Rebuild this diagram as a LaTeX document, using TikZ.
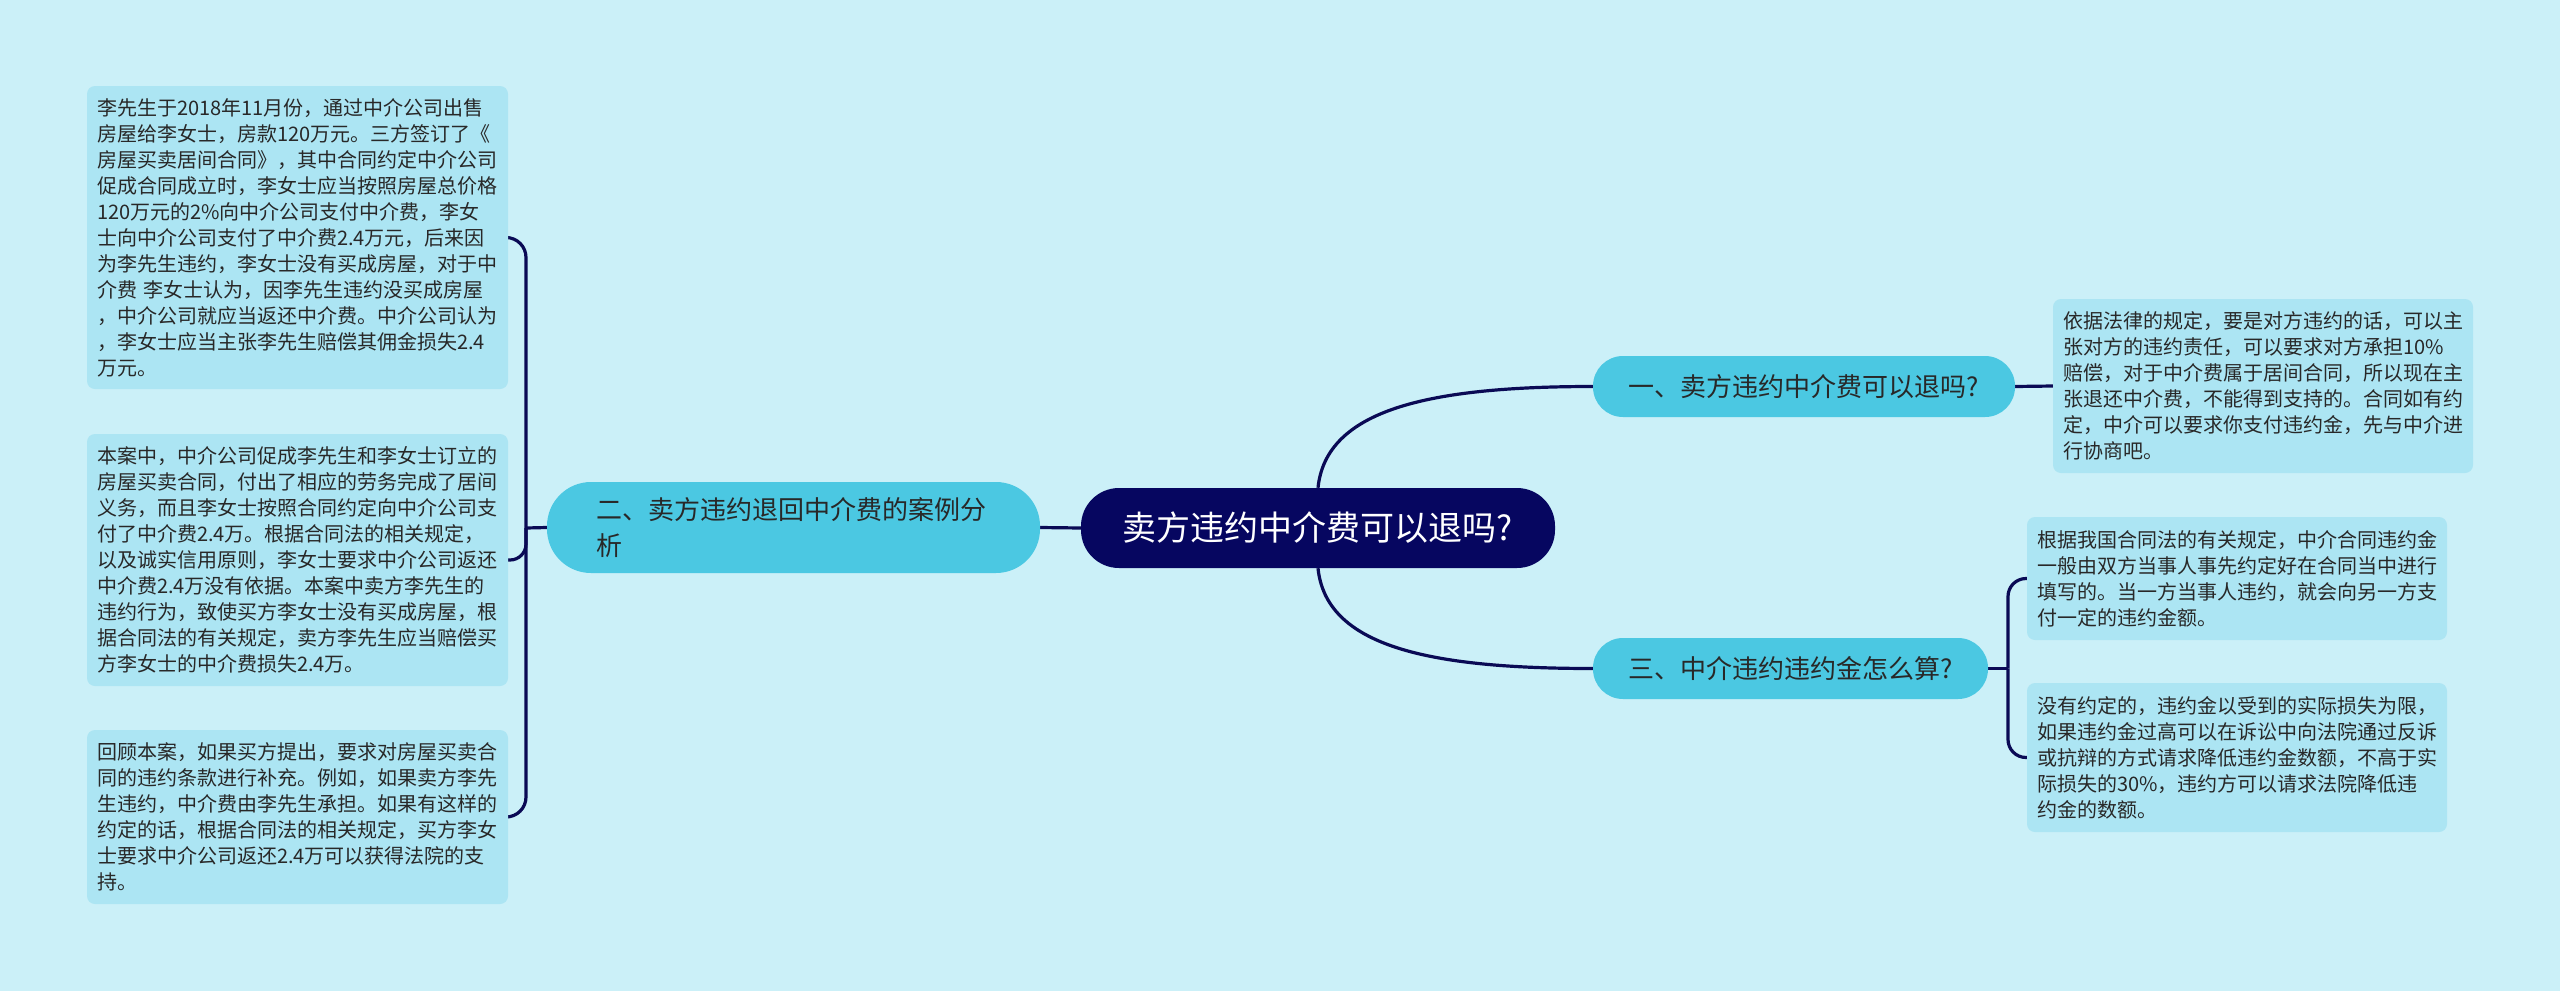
\documentclass[tikz,border=0pt]{standalone}
\usepackage{fontspec}
\setmainfont{Noto Sans CJK SC}
\definecolor{bgc}{RGB}{203,240,248}
\definecolor{leafc}{RGB}{172,229,243}
\definecolor{branchc}{RGB}{75,200,226}
\definecolor{rootc}{RGB}{6,6,96}
\definecolor{linec}{RGB}{10,10,85}
\definecolor{txtc}{RGB}{40,40,40}
\pgfdeclarelayer{bglayer}
\pgfdeclarelayer{connlayer}
\pgfsetlayers{bglayer,connlayer,main}
\begin{document}
\begin{tikzpicture}[x=1pt,y=-1pt,
  leafbox/.style={fill=leafc, rounded corners=8pt, inner xsep=10pt, inner ysep=0pt,
    align=left, text width=#1, text=txtc, font=\fontsize{20}{26}\selectfont},
  branchbox/.style={fill=branchc, rounded corners=30pt, inner sep=0pt, text=txtc,
    font=\fontsize{26}{36}\selectfont},
  rootbox/.style={fill=rootc, rounded corners=38pt, inner sep=0pt, text=white,
    font=\fontsize{34}{40}\selectfont},
  conn/.style={draw=linec, line width=3.2pt}]
\begin{pgfonlayer}{bglayer}
\fill[bgc] (0,0) rectangle (2560,991);
\end{pgfonlayer}
\useasboundingbox (0,0) rectangle (2560,991);

% root and branches
\node[rootbox, minimum width=474pt, minimum height=80pt] (root) at (1318,528) {卖方违约中介费可以退吗?};
\node[branchbox, minimum width=422pt, minimum height=61pt] (b1) at (1804,386.5) {一、卖方违约中介费可以退吗?};
\node[branchbox, minimum width=395pt, minimum height=61pt] (b3) at (1790.5,668.5) {三、中介违约违约金怎么算?};
\node[branchbox, rounded corners=44pt, minimum width=493pt, minimum height=91pt, inner xsep=49pt, align=left, text width=395pt] (b2) at (793.5,527.5) {二、卖方违约退回中介费的案例分\\析};

% left leaves
\node[leafbox=401pt, minimum height=303pt] (l1) at (297.5,237.5) {李先生于2018年11月份，通过中介公司出售\\房屋给李女士，房款120万元。三方签订了《\\房屋买卖居间合同》，其中合同约定中介公司\\促成合同成立时，李女士应当按照房屋总价格\\120万元的2\%向中介公司支付中介费，李女\\士向中介公司支付了中介费2.4万元，后来因\\为李先生违约，李女士没有买成房屋，对于中\\介费 李女士认为，因李先生违约没买成房屋\\，中介公司就应当返还中介费。中介公司认为\\，李女士应当主张李先生赔偿其佣金损失2.4\\万元。};
\node[leafbox=401pt, minimum height=252pt] (l2) at (297.5,560) {本案中，中介公司促成李先生和李女士订立的\\房屋买卖合同，付出了相应的劳务完成了居间\\义务，而且李女士按照合同约定向中介公司支\\付了中介费2.4万。根据合同法的相关规定，\\以及诚实信用原则，李女士要求中介公司返还\\中介费2.4万没有依据。本案中卖方李先生的\\违约行为，致使买方李女士没有买成房屋，根\\据合同法的有关规定，卖方李先生应当赔偿买\\方李女士的中介费损失2.4万。};
\node[leafbox=401pt, minimum height=174pt] (l3) at (297.5,817) {回顾本案，如果买方提出，要求对房屋买卖合\\同的违约条款进行补充。例如，如果卖方李先\\生违约，中介费由李先生承担。如果有这样的\\约定的话，根据合同法的相关规定，买方李女\\士要求中介公司返还2.4万可以获得法院的支\\持。};

% right leaves
\node[leafbox=400pt, minimum height=174pt] (r1) at (2263,386) {依据法律的规定，要是对方违约的话，可以主\\张对方的违约责任，可以要求对方承担10\%\\赔偿，对于中介费属于居间合同，所以现在主\\张退还中介费，不能得到支持的。合同如有约\\定，中介可以要求你支付违约金，先与中介进\\行协商吧。};
\node[leafbox=400pt, minimum height=123pt] (r2) at (2237,578.5) {根据我国合同法的有关规定，中介合同违约金\\一般由双方当事人事先约定好在合同当中进行\\填写的。当一方当事人违约，就会向另一方支\\付一定的违约金额。};
\node[leafbox=400pt, minimum height=149pt] (r3) at (2237,757.5) {没有约定的，违约金以受到的实际损失为限，\\如果违约金过高可以在诉讼中向法院通过反诉\\或抗辩的方式请求降低违约金数额，不高于实\\际损失的30\%，违约方可以请求法院降低违\\约金的数额。};

\coordinate (jl) at (526,528);
\coordinate (jr) at (2008,668.5);

\begin{pgfonlayer}{connlayer}
\draw[conn] (root.west) -- (b2.east);
\draw[conn] (root.north) .. controls ([xshift=8pt,yshift=78pt]root.north) and ([xshift=-165pt]b1.west) .. (b1.west);
\draw[conn] (root.south) .. controls ([xshift=8pt,yshift=-78pt]root.south) and ([xshift=-165pt]b3.west) .. (b3.west);
\draw[conn] (b1.east) -- (r1.west);
\draw[conn] (b2.west) -- (jl);
\draw[conn, rounded corners=20pt] (jl) -- (jl |- l1.east) -- (l1.east);
\draw[conn, rounded corners=16pt] (jl) -- (jl |- l2.east) -- (l2.east);
\draw[conn, rounded corners=20pt] (jl) -- (jl |- l3.east) -- (l3.east);
\draw[conn] (b3.east) -- (jr);
\draw[conn, rounded corners=18pt] (jr) -- (jr |- r2.west) -- (r2.west);
\draw[conn, rounded corners=18pt] (jr) -- (jr |- r3.west) -- (r3.west);
\end{pgfonlayer}
\end{tikzpicture}
\end{document}
